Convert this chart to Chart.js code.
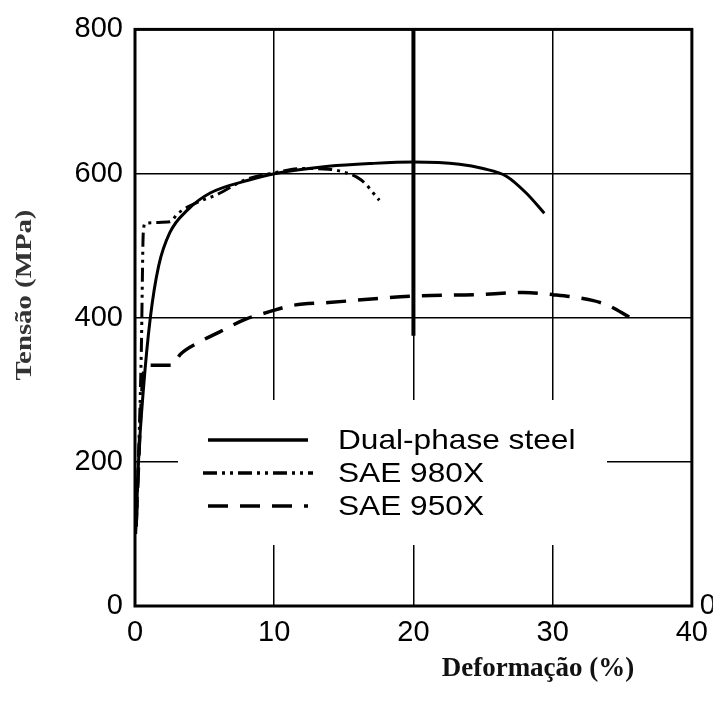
<!DOCTYPE html>
<html lang="pt-br">
<head>
  <meta charset="UTF-8">
  <title>Tensão x Deformação</title>
  <script src="https://cdn.jsdelivr.net/npm/chart.js"></script>
  <style>
    html, body { margin: 0; padding: 0; background: #fff; }
    #wrap { width: 718px; height: 715px; }
  </style>
</head>
<body>
  <div id="wrap"><canvas id="grafico"></canvas></div>

  <script>
    // Dados (deformação em %, tensão em MPa)
    const nomes = ['Dual-phase steel', 'SAE 980X', 'SAE 950X'];

    const dualX = [0.05, 0.25, 0.6, 1.1, 1.7, 2.5, 3.8, 5.4, 8.2, 10.1, 13.9, 17, 20, 23.3, 25, 26.7, 28.1, 29.4];
    const dualY = [100, 200, 300, 400, 472, 518, 550, 573, 591, 600, 610, 614, 616, 613, 607, 596, 573, 545];

    const sae980X = [0.1, 0.45, 0.6, 0.75, 2.5, 3.1, 4.6, 5.8, 8, 10, 12, 13.9, 14.6, 16.25, 17.55];
    const sae980Y = [110, 350, 520, 531, 533, 545, 561, 570, 592, 601, 607, 606, 604, 591, 563];

    const sae950X = [0.1, 0.5, 0.75, 2.6, 3.3, 4.6, 6.05, 7.95, 9.6, 11.3, 13.9, 20, 24.5, 27.9, 30, 32.85, 34, 35.5];
    const sae950Y = [120, 300, 334, 334, 350, 366, 380, 398, 408, 417, 421, 430, 432, 435, 432, 424, 417, 401];

    // traço grosso sobre a linha de 20 % (marca do original)
    const marcaX = [20, 20];
    const marcaY = [800, 375];

    const ticksX = [0, 10, 20, 30, 40];
    const ticksY = [0, 200, 400, 600, 800];

    const estilos = [
      { dash: [] },
      { dash: [14, 5, 3, 5, 3, 5] },
      { dash: [20, 12] }
    ];

    function pontos(xs, ys) {
      return xs.map((v, i) => ({ x: v, y: ys[i] }));
    }

    const fonteSans = '"Liberation Sans", Arial, sans-serif';
    const fonteSerif = '"Liberation Serif", "Times New Roman", serif';

    // legenda, moldura e títulos desenhados à mão
    const decoracao = {
      id: 'decoracao',
      beforeDatasetsDraw(chart) {
        const { ctx } = chart;
        ctx.save();
        // caixa branca da legenda (interrompe a grade)
        ctx.fillStyle = '#fff';
        ctx.fillRect(178, 400, 429, 145);

        const linhasY = [440, 473, 506];
        nomes.forEach((nome, i) => {
          ctx.strokeStyle = '#000';
          ctx.lineWidth = 3.5;
          ctx.setLineDash(estilos[i].dash);
          ctx.beginPath();
          ctx.moveTo(i === 1 ? 203 : 208, linhasY[i]);
          ctx.lineTo(i === 1 ? 313 : 308, linhasY[i]);
          ctx.stroke();
          ctx.setLineDash([]);

          ctx.save();
          ctx.translate(338, linhasY[i] + 1);
          ctx.scale(1.13, 1);
          ctx.fillStyle = '#000';
          ctx.font = '28px ' + fonteSans;
          ctx.textBaseline = 'middle';
          ctx.fillText(nome, 0, 0);
          ctx.restore();
        });
        ctx.restore();
      },
      afterDraw(chart) {
        const { ctx, chartArea: a } = chart;
        ctx.save();
        ctx.strokeStyle = '#000';
        ctx.lineWidth = 3;
        ctx.strokeRect(a.left, a.top, a.right - a.left, a.bottom - a.top);

        // título do eixo x
        ctx.fillStyle = '#111';
        ctx.font = 'bold 27px ' + fonteSerif;
        ctx.textAlign = 'center';
        ctx.textBaseline = 'middle';
        ctx.fillText('Deformação (%)', 538, 669);

        // título do eixo y
        ctx.translate(25, 295);
        ctx.rotate(-Math.PI / 2);
        ctx.scale(1.2, 1);
        ctx.fillStyle = '#333';
        ctx.font = 'bold 24px ' + fonteSerif;
        ctx.fillText('Tensão (MPa)', 0, 0);
        ctx.restore();
      }
    };

    const ctx = document.getElementById('grafico').getContext('2d');
    new Chart(ctx, {
      type: 'scatter',
      data: {
        datasets: [
          {
            label: nomes[0],
            data: pontos(dualX, dualY),
            borderColor: '#000',
            borderWidth: 3,
            borderDash: estilos[0].dash
          },
          {
            label: nomes[1],
            data: pontos(sae980X, sae980Y),
            borderColor: '#000',
            borderWidth: 3,
            borderDash: estilos[1].dash
          },
          {
            label: nomes[2],
            data: pontos(sae950X, sae950Y),
            borderColor: '#000',
            borderWidth: 3.5,
            borderDash: estilos[2].dash
          },
          {
            label: 'marca',
            data: pontos(marcaX, marcaY),
            borderColor: '#000',
            borderWidth: 4,
            cubicInterpolationMode: 'default',
            tension: 0
          }
        ]
      },
      options: {
        responsive: true,
        maintainAspectRatio: false,
        animation: false,
        showLine: true,
        layout: { padding: { top: 25, left: 0, right: 0, bottom: 0 } },
        elements: {
          point: { radius: 0 },
          line: { cubicInterpolationMode: 'monotone', fill: false }
        },
        plugins: {
          legend: { display: false },
          tooltip: { enabled: false }
        },
        scales: {
          x: {
            type: 'linear',
            min: 0,
            max: 40,
            afterBuildTicks(scale) {
              scale.ticks = ticksX.map(v => ({ value: v }));
            },
            afterFit(scale) { scale.height = 109; },
            border: { display: false },
            grid: {
              color: ctx => (ctx.tick && (ctx.tick.value === 0 || ctx.tick.value === 40)) ? 'rgba(0,0,0,0)' : '#000',
              lineWidth: 1.5,
              drawTicks: false
            },
            ticks: {
              color: '#000',
              padding: 10,
              maxRotation: 0,
              font: { family: fonteSans, size: 29 }
            }
          },
          y: {
            type: 'linear',
            min: 0,
            max: 800,
            afterBuildTicks(scale) {
              scale.ticks = ticksY.map(v => ({ value: v }));
            },
            afterFit(scale) { scale.width = 135; },
            border: { display: false },
            grid: {
              color: ctx => (ctx.tick && (ctx.tick.value === 0 || ctx.tick.value === 800)) ? 'rgba(0,0,0,0)' : '#000',
              lineWidth: 1.5,
              drawTicks: false
            },
            ticks: {
              color: '#000',
              padding: 12,
              font: { family: fonteSans, size: 29 }
            }
          },
          y2: {
            type: 'linear',
            position: 'right',
            min: 0,
            max: 800,
            afterBuildTicks(scale) {
              scale.ticks = [{ value: 0 }];
            },
            afterFit(scale) { scale.width = 21; },
            border: { display: false },
            grid: { display: false, drawTicks: false },
            ticks: {
              color: '#000',
              padding: 8,
              font: { family: fonteSans, size: 29 }
            }
          }
        }
      },
      plugins: [decoracao]
    });
  </script>
</body>
</html>
